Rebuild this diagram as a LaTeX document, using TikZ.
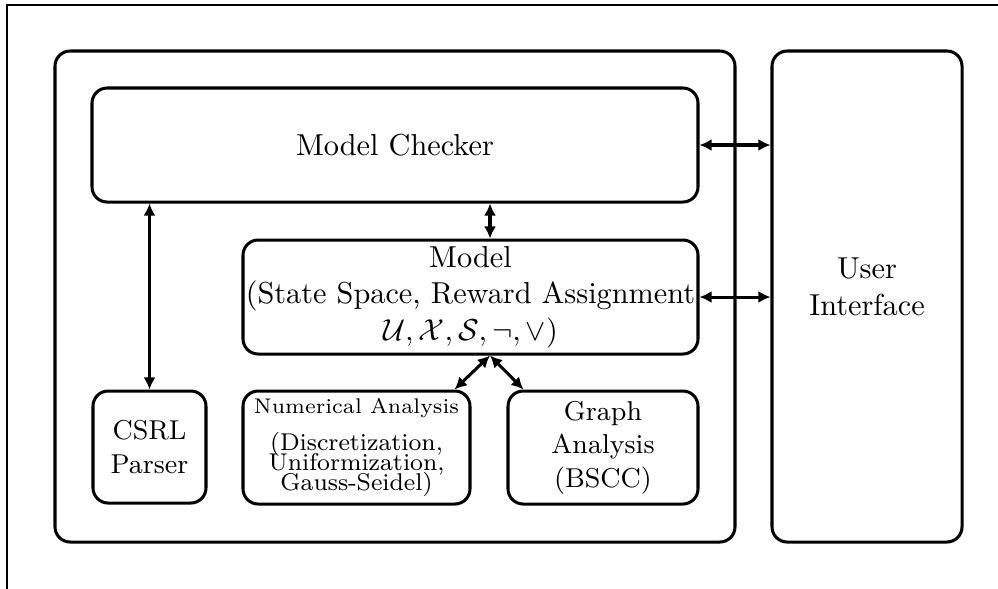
\documentclass[tikz,border=0pt]{standalone}
\usetikzlibrary{arrows.meta}
\begin{document}
\begin{tikzpicture}[x=0.33pt,y=-0.33pt,
    box/.style={draw,line width=1pt,rounded corners=5pt,align=center,inner sep=0pt},
    link/.style={line width=1pt,{Latex[length=4pt,width=4pt]}-{Latex[length=4pt,width=4pt]}}]
    \useasboundingbox (0,0) rectangle (998,588);
    \draw[line width=0.6pt] (7,5) rectangle (1006,596);
    \node[box,minimum width=680*0.33pt,minimum height=491*0.33pt] (core) at (395,296.5) {};
    \node[box,minimum width=190*0.33pt,minimum height=491*0.33pt] (ui) at (867,296.5) {User\\Interface\\[-5.4pt]\mbox{}};
    \node[box,minimum width=606*0.33pt,minimum height=114*0.33pt] (checker) at (395,145) {Model Checker};
    \node[box,minimum width=455*0.33pt,minimum height=114*0.33pt] (model) at (470.5,297)
        {Model\\(State Space, Reward Assignment\\$\mathcal{U},\mathcal{X},\mathcal{S},\neg,\vee)$};
    \node[box,font=\small,minimum width=113*0.33pt,minimum height=112*0.33pt] (csrl) at (149.5,447) {CSRL\\Parser};
    \node[box,font=\footnotesize,minimum width=227*0.33pt,minimum height=113*0.33pt] (numer) at (356.5,447.5)
        {{\scriptsize Numerical Analysis}\\[2.7pt](Discretization,\\[-3pt]Uniformization,\\[-3pt]Gauss-Seidel)};
    \node[box,font=\small,minimum width=190*0.33pt,minimum height=113*0.33pt] (graph) at (603,447.5) {Graph\\Analysis\\(BSCC)};
    \coordinate (tap) at (490,0);
    \draw[link] (checker.east) -- (checker.east -| ui.west);
    \draw[link] (model.east) -- (model.east -| ui.west);
    \draw[link] (csrl.north) -- (csrl.north |- checker.south);
    \draw[link] (model.north -| tap) -- (checker.south -| tap);
    \draw[link] (model.south -| tap) -- ([xshift=-5.6pt]numer.north east);
    \draw[link] (model.south -| tap) -- ([xshift=5.6pt]graph.north west);
\end{tikzpicture}
\end{document}
